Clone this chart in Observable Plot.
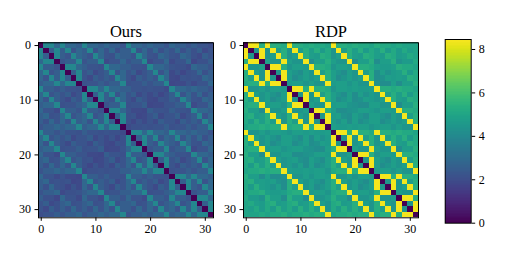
<!DOCTYPE html>
<html>
<head>
<meta charset="utf-8">
<script src="https://cdn.jsdelivr.net/npm/d3@7"></script>
<script src="https://cdn.jsdelivr.net/npm/@observablehq/plot@0.6"></script>
<style>
html,body{margin:0;padding:0;background:#fff}
#c{position:relative;width:523px;height:262px;overflow:hidden;background:#fff}
#c svg{position:absolute;background:transparent;overflow:visible}
</style>
</head>
<body>
<div id="c"></div>
<script>
const oursTitle = "Ours";
const rdpTitle = "RDP";
const tickLabels = [0, 10, 20, 30];
const barTicks = [0, 2, 4, 6, 8];
const colorMax = 8.46;

const ours = [
[0,3.9,3.9,2.8,3.9,2.8,2.8,2.5,3.9,2.8,2.8,2.5,2.8,2.5,2.5,2.2,3.9,2.8,2.8,2.5,2.8,2.5,2.5,2.2,2.8,2.5,2.5,2.2,2.5,2.2,2.2,2],
[3.9,0,2.5,3.9,2.5,3.9,2.2,2.8,2.5,3.9,2.2,2.8,2.2,2.8,2.1,2.5,2.5,3.9,2.2,2.8,2.2,2.8,2.1,2.5,2.2,2.8,2.1,2.5,2.1,2.5,1.9,2.2],
[3.9,2.5,0,3.9,2.5,2.2,3.9,2.8,2.5,2.2,3.9,2.8,2.2,2.1,2.8,2.5,2.5,2.2,3.9,2.8,2.2,2.1,2.8,2.5,2.2,2.1,2.8,2.5,2.1,1.9,2.5,2.2],
[2.8,3.9,3.9,0,2.2,2.5,2.5,3.9,2.2,2.5,2.5,3.9,1.9,2.2,2.2,2.8,2.2,2.5,2.5,3.9,1.9,2.2,2.2,2.8,1.9,2.2,2.2,2.8,1.8,2.1,2.1,2.5],
[3.9,2.5,2.5,2.2,0,3.9,3.9,2.8,2.5,2.2,2.2,2.1,3.9,2.8,2.8,2.5,2.5,2.2,2.2,2.1,3.9,2.8,2.8,2.5,2.2,2.1,2.1,1.9,2.8,2.5,2.5,2.2],
[2.8,3.9,2.2,2.5,3.9,0,2.5,3.9,2.2,2.5,1.9,2.2,2.5,3.9,2.2,2.8,2.2,2.5,1.9,2.2,2.5,3.9,2.2,2.8,1.9,2.2,1.8,2.1,2.2,2.8,2.1,2.5],
[2.8,2.2,3.9,2.5,3.9,2.5,0,3.9,2.2,1.9,2.5,2.2,2.5,2.2,3.9,2.8,2.2,1.9,2.5,2.2,2.5,2.2,3.9,2.8,1.9,1.8,2.2,2.1,2.2,2.1,2.8,2.5],
[2.5,2.8,2.8,3.9,2.8,3.9,3.9,0,2.1,2.2,2.2,2.5,2.2,2.5,2.5,3.9,2.1,2.2,2.2,2.5,2.2,2.5,2.5,3.9,1.8,1.9,1.9,2.2,1.9,2.2,2.2,2.8],
[3.9,2.5,2.5,2.2,2.5,2.2,2.2,2.1,0,3.9,3.9,2.8,3.9,2.8,2.8,2.5,2.5,2.2,2.2,2.1,2.2,2.1,2.1,1.9,3.9,2.8,2.8,2.5,2.8,2.5,2.5,2.2],
[2.8,3.9,2.2,2.5,2.2,2.5,1.9,2.2,3.9,0,2.5,3.9,2.5,3.9,2.2,2.8,2.2,2.5,1.9,2.2,1.9,2.2,1.8,2.1,2.5,3.9,2.2,2.8,2.2,2.8,2.1,2.5],
[2.8,2.2,3.9,2.5,2.2,1.9,2.5,2.2,3.9,2.5,0,3.9,2.5,2.2,3.9,2.8,2.2,1.9,2.5,2.2,1.9,1.8,2.2,2.1,2.5,2.2,3.9,2.8,2.2,2.1,2.8,2.5],
[2.5,2.8,2.8,3.9,2.1,2.2,2.2,2.5,2.8,3.9,3.9,0,2.2,2.5,2.5,3.9,2.1,2.2,2.2,2.5,1.8,1.9,1.9,2.2,2.2,2.5,2.5,3.9,1.9,2.2,2.2,2.8],
[2.8,2.2,2.2,1.9,3.9,2.5,2.5,2.2,3.9,2.5,2.5,2.2,0,3.9,3.9,2.8,2.2,1.9,1.9,1.8,2.5,2.2,2.2,2.1,2.5,2.2,2.2,2.1,3.9,2.8,2.8,2.5],
[2.5,2.8,2.1,2.2,2.8,3.9,2.2,2.5,2.8,3.9,2.2,2.5,3.9,0,2.5,3.9,2.1,2.2,1.8,1.9,2.2,2.5,1.9,2.2,2.2,2.5,1.9,2.2,2.5,3.9,2.2,2.8],
[2.5,2.1,2.8,2.2,2.8,2.2,3.9,2.5,2.8,2.2,3.9,2.5,3.9,2.5,0,3.9,2.1,1.8,2.2,1.9,2.2,1.9,2.5,2.2,2.2,1.9,2.5,2.2,2.5,2.2,3.9,2.8],
[2.2,2.5,2.5,2.8,2.5,2.8,2.8,3.9,2.5,2.8,2.8,3.9,2.8,3.9,3.9,0,1.9,2.1,2.1,2.2,2.1,2.2,2.2,2.5,2.1,2.2,2.2,2.5,2.2,2.5,2.5,3.9],
[3.9,2.5,2.5,2.2,2.5,2.2,2.2,2.1,2.5,2.2,2.2,2.1,2.2,2.1,2.1,1.9,0,3.9,3.9,2.8,3.9,2.8,2.8,2.5,3.9,2.8,2.8,2.5,2.8,2.5,2.5,2.2],
[2.8,3.9,2.2,2.5,2.2,2.5,1.9,2.2,2.2,2.5,1.9,2.2,1.9,2.2,1.8,2.1,3.9,0,2.5,3.9,2.5,3.9,2.2,2.8,2.5,3.9,2.2,2.8,2.2,2.8,2.1,2.5],
[2.8,2.2,3.9,2.5,2.2,1.9,2.5,2.2,2.2,1.9,2.5,2.2,1.9,1.8,2.2,2.1,3.9,2.5,0,3.9,2.5,2.2,3.9,2.8,2.5,2.2,3.9,2.8,2.2,2.1,2.8,2.5],
[2.5,2.8,2.8,3.9,2.1,2.2,2.2,2.5,2.1,2.2,2.2,2.5,1.8,1.9,1.9,2.2,2.8,3.9,3.9,0,2.2,2.5,2.5,3.9,2.2,2.5,2.5,3.9,1.9,2.2,2.2,2.8],
[2.8,2.2,2.2,1.9,3.9,2.5,2.5,2.2,2.2,1.9,1.9,1.8,2.5,2.2,2.2,2.1,3.9,2.5,2.5,2.2,0,3.9,3.9,2.8,2.5,2.2,2.2,2.1,3.9,2.8,2.8,2.5],
[2.5,2.8,2.1,2.2,2.8,3.9,2.2,2.5,2.1,2.2,1.8,1.9,2.2,2.5,1.9,2.2,2.8,3.9,2.2,2.5,3.9,0,2.5,3.9,2.2,2.5,1.9,2.2,2.5,3.9,2.2,2.8],
[2.5,2.1,2.8,2.2,2.8,2.2,3.9,2.5,2.1,1.8,2.2,1.9,2.2,1.9,2.5,2.2,2.8,2.2,3.9,2.5,3.9,2.5,0,3.9,2.2,1.9,2.5,2.2,2.5,2.2,3.9,2.8],
[2.2,2.5,2.5,2.8,2.5,2.8,2.8,3.9,1.9,2.1,2.1,2.2,2.1,2.2,2.2,2.5,2.5,2.8,2.8,3.9,2.8,3.9,3.9,0,2.1,2.2,2.2,2.5,2.2,2.5,2.5,3.9],
[2.8,2.2,2.2,1.9,2.2,1.9,1.9,1.8,3.9,2.5,2.5,2.2,2.5,2.2,2.2,2.1,3.9,2.5,2.5,2.2,2.5,2.2,2.2,2.1,0,3.9,3.9,2.8,3.9,2.8,2.8,2.5],
[2.5,2.8,2.1,2.2,2.1,2.2,1.8,1.9,2.8,3.9,2.2,2.5,2.2,2.5,1.9,2.2,2.8,3.9,2.2,2.5,2.2,2.5,1.9,2.2,3.9,0,2.5,3.9,2.5,3.9,2.2,2.8],
[2.5,2.1,2.8,2.2,2.1,1.8,2.2,1.9,2.8,2.2,3.9,2.5,2.2,1.9,2.5,2.2,2.8,2.2,3.9,2.5,2.2,1.9,2.5,2.2,3.9,2.5,0,3.9,2.5,2.2,3.9,2.8],
[2.2,2.5,2.5,2.8,1.9,2.1,2.1,2.2,2.5,2.8,2.8,3.9,2.1,2.2,2.2,2.5,2.5,2.8,2.8,3.9,2.1,2.2,2.2,2.5,2.8,3.9,3.9,0,2.2,2.5,2.5,3.9],
[2.5,2.1,2.1,1.8,2.8,2.2,2.2,1.9,2.8,2.2,2.2,1.9,3.9,2.5,2.5,2.2,2.8,2.2,2.2,1.9,3.9,2.5,2.5,2.2,3.9,2.5,2.5,2.2,0,3.9,3.9,2.8],
[2.2,2.5,1.9,2.1,2.5,2.8,2.1,2.2,2.5,2.8,2.1,2.2,2.8,3.9,2.2,2.5,2.5,2.8,2.1,2.2,2.8,3.9,2.2,2.5,2.8,3.9,2.2,2.5,3.9,0,2.5,3.9],
[2.2,1.9,2.5,2.1,2.5,2.1,2.8,2.2,2.5,2.1,2.8,2.2,2.8,2.2,3.9,2.5,2.5,2.1,2.8,2.2,2.8,2.2,3.9,2.5,2.8,2.2,3.9,2.5,3.9,2.5,0,3.9],
[2,2.2,2.2,2.5,2.2,2.5,2.5,2.8,2.2,2.5,2.5,2.8,2.5,2.8,2.8,3.9,2.2,2.5,2.5,2.8,2.5,2.8,2.8,3.9,2.5,2.8,2.8,3.9,2.8,3.9,3.9,0]
];

const rdp = [
[0,8.3,8.3,5.3,8.3,5.3,5.3,5.1,8.3,5.3,5.3,5.1,5.3,5.1,5.1,4.9,8.3,5.3,5.3,5.1,5.3,5.1,5.1,4.9,5.3,5.1,5.1,4.9,5.1,4.9,4.9,4.9],
[8.3,0,4.4,8.3,4.4,8.3,4.7,5.3,4.4,8.3,4.7,5.3,4.7,5.3,4.6,5.1,4.4,8.3,4.7,5.3,4.7,5.3,4.6,5.1,4.7,5.3,4.6,5.1,4.6,5.1,4.7,4.9],
[8.3,4.4,0,8.3,4.4,4.7,8.3,5.3,4.4,4.7,8.3,5.3,4.7,4.6,5.3,5.1,4.4,4.7,8.3,5.3,4.7,4.6,5.3,5.1,4.7,4.6,5.3,5.1,4.6,4.7,5.1,4.9],
[5.3,8.3,8.3,0,4.7,4.4,4.4,8.3,4.7,4.4,4.4,8.3,4.1,4.7,4.7,5.3,4.7,4.4,4.4,8.3,4.1,4.7,4.7,5.3,4.1,4.7,4.7,5.3,4.3,4.6,4.6,5.1],
[8.3,4.4,4.4,4.7,0,8.3,8.3,5.3,4.4,4.7,4.7,4.6,8.3,5.3,5.3,5.1,4.4,4.7,4.7,4.6,8.3,5.3,5.3,5.1,4.7,4.6,4.6,4.7,5.3,5.1,5.1,4.9],
[5.3,8.3,4.7,4.4,8.3,0,4.4,8.3,4.7,4.4,4.1,4.7,4.4,8.3,4.7,5.3,4.7,4.4,4.1,4.7,4.4,8.3,4.7,5.3,4.1,4.7,4.3,4.6,4.7,5.3,4.6,5.1],
[5.3,4.7,8.3,4.4,8.3,4.4,0,8.3,4.7,4.1,4.4,4.7,4.4,4.7,8.3,5.3,4.7,4.1,4.4,4.7,4.4,4.7,8.3,5.3,4.1,4.3,4.7,4.6,4.7,4.6,5.3,5.1],
[5.1,5.3,5.3,8.3,5.3,8.3,8.3,0,4.6,4.7,4.7,4.4,4.7,4.4,4.4,8.3,4.6,4.7,4.7,4.4,4.7,4.4,4.4,8.3,4.3,4.1,4.1,4.7,4.1,4.7,4.7,5.3],
[8.3,4.4,4.4,4.7,4.4,4.7,4.7,4.6,0,8.3,8.3,5.3,8.3,5.3,5.3,5.1,4.4,4.7,4.7,4.6,4.7,4.6,4.6,4.7,8.3,5.3,5.3,5.1,5.3,5.1,5.1,4.9],
[5.3,8.3,4.7,4.4,4.7,4.4,4.1,4.7,8.3,0,4.4,8.3,4.4,8.3,4.7,5.3,4.7,4.4,4.1,4.7,4.1,4.7,4.3,4.6,4.4,8.3,4.7,5.3,4.7,5.3,4.6,5.1],
[5.3,4.7,8.3,4.4,4.7,4.1,4.4,4.7,8.3,4.4,0,8.3,4.4,4.7,8.3,5.3,4.7,4.1,4.4,4.7,4.1,4.3,4.7,4.6,4.4,4.7,8.3,5.3,4.7,4.6,5.3,5.1],
[5.1,5.3,5.3,8.3,4.6,4.7,4.7,4.4,5.3,8.3,8.3,0,4.7,4.4,4.4,8.3,4.6,4.7,4.7,4.4,4.3,4.1,4.1,4.7,4.7,4.4,4.4,8.3,4.1,4.7,4.7,5.3],
[5.3,4.7,4.7,4.1,8.3,4.4,4.4,4.7,8.3,4.4,4.4,4.7,0,8.3,8.3,5.3,4.7,4.1,4.1,4.3,4.4,4.7,4.7,4.6,4.4,4.7,4.7,4.6,8.3,5.3,5.3,5.1],
[5.1,5.3,4.6,4.7,5.3,8.3,4.7,4.4,5.3,8.3,4.7,4.4,8.3,0,4.4,8.3,4.6,4.7,4.3,4.1,4.7,4.4,4.1,4.7,4.7,4.4,4.1,4.7,4.4,8.3,4.7,5.3],
[5.1,4.6,5.3,4.7,5.3,4.7,8.3,4.4,5.3,4.7,8.3,4.4,8.3,4.4,0,8.3,4.6,4.3,4.7,4.1,4.7,4.1,4.4,4.7,4.7,4.1,4.4,4.7,4.4,4.7,8.3,5.3],
[4.9,5.1,5.1,5.3,5.1,5.3,5.3,8.3,5.1,5.3,5.3,8.3,5.3,8.3,8.3,0,4.7,4.6,4.6,4.7,4.6,4.7,4.7,4.4,4.6,4.7,4.7,4.4,4.7,4.4,4.4,8.3],
[8.3,4.4,4.4,4.7,4.4,4.7,4.7,4.6,4.4,4.7,4.7,4.6,4.7,4.6,4.6,4.7,0,8.3,8.3,5.3,8.3,5.3,5.3,5.1,8.3,5.3,5.3,5.1,5.3,5.1,5.1,4.9],
[5.3,8.3,4.7,4.4,4.7,4.4,4.1,4.7,4.7,4.4,4.1,4.7,4.1,4.7,4.3,4.6,8.3,0,4.4,8.3,4.4,8.3,4.7,5.3,4.4,8.3,4.7,5.3,4.7,5.3,4.6,5.1],
[5.3,4.7,8.3,4.4,4.7,4.1,4.4,4.7,4.7,4.1,4.4,4.7,4.1,4.3,4.7,4.6,8.3,4.4,0,8.3,4.4,4.7,8.3,5.3,4.4,4.7,8.3,5.3,4.7,4.6,5.3,5.1],
[5.1,5.3,5.3,8.3,4.6,4.7,4.7,4.4,4.6,4.7,4.7,4.4,4.3,4.1,4.1,4.7,5.3,8.3,8.3,0,4.7,4.4,4.4,8.3,4.7,4.4,4.4,8.3,4.1,4.7,4.7,5.3],
[5.3,4.7,4.7,4.1,8.3,4.4,4.4,4.7,4.7,4.1,4.1,4.3,4.4,4.7,4.7,4.6,8.3,4.4,4.4,4.7,0,8.3,8.3,5.3,4.4,4.7,4.7,4.6,8.3,5.3,5.3,5.1],
[5.1,5.3,4.6,4.7,5.3,8.3,4.7,4.4,4.6,4.7,4.3,4.1,4.7,4.4,4.1,4.7,5.3,8.3,4.7,4.4,8.3,0,4.4,8.3,4.7,4.4,4.1,4.7,4.4,8.3,4.7,5.3],
[5.1,4.6,5.3,4.7,5.3,4.7,8.3,4.4,4.6,4.3,4.7,4.1,4.7,4.1,4.4,4.7,5.3,4.7,8.3,4.4,8.3,4.4,0,8.3,4.7,4.1,4.4,4.7,4.4,4.7,8.3,5.3],
[4.9,5.1,5.1,5.3,5.1,5.3,5.3,8.3,4.7,4.6,4.6,4.7,4.6,4.7,4.7,4.4,5.1,5.3,5.3,8.3,5.3,8.3,8.3,0,4.6,4.7,4.7,4.4,4.7,4.4,4.4,8.3],
[5.3,4.7,4.7,4.1,4.7,4.1,4.1,4.3,8.3,4.4,4.4,4.7,4.4,4.7,4.7,4.6,8.3,4.4,4.4,4.7,4.4,4.7,4.7,4.6,0,8.3,8.3,5.3,8.3,5.3,5.3,5.1],
[5.1,5.3,4.6,4.7,4.6,4.7,4.3,4.1,5.3,8.3,4.7,4.4,4.7,4.4,4.1,4.7,5.3,8.3,4.7,4.4,4.7,4.4,4.1,4.7,8.3,0,4.4,8.3,4.4,8.3,4.7,5.3],
[5.1,4.6,5.3,4.7,4.6,4.3,4.7,4.1,5.3,4.7,8.3,4.4,4.7,4.1,4.4,4.7,5.3,4.7,8.3,4.4,4.7,4.1,4.4,4.7,8.3,4.4,0,8.3,4.4,4.7,8.3,5.3],
[4.9,5.1,5.1,5.3,4.7,4.6,4.6,4.7,5.1,5.3,5.3,8.3,4.6,4.7,4.7,4.4,5.1,5.3,5.3,8.3,4.6,4.7,4.7,4.4,5.3,8.3,8.3,0,4.7,4.4,4.4,8.3],
[5.1,4.6,4.6,4.3,5.3,4.7,4.7,4.1,5.3,4.7,4.7,4.1,8.3,4.4,4.4,4.7,5.3,4.7,4.7,4.1,8.3,4.4,4.4,4.7,8.3,4.4,4.4,4.7,0,8.3,8.3,5.3],
[4.9,5.1,4.7,4.6,5.1,5.3,4.6,4.7,5.1,5.3,4.6,4.7,5.3,8.3,4.7,4.4,5.1,5.3,4.6,4.7,5.3,8.3,4.7,4.4,5.3,8.3,4.7,4.4,8.3,0,4.4,8.3],
[4.9,4.7,5.1,4.6,5.1,4.6,5.3,4.7,5.1,4.6,5.3,4.7,5.3,4.7,8.3,4.4,5.1,4.6,5.3,4.7,5.3,4.7,8.3,4.4,5.3,4.7,8.3,4.4,8.3,4.4,0,8.3],
[4.9,4.9,4.9,5.1,4.9,5.1,5.1,5.3,4.9,5.1,5.1,5.3,5.1,5.3,5.3,8.3,4.9,5.1,5.1,5.3,5.1,5.3,5.3,8.3,5.1,5.3,5.3,8.3,5.3,8.3,8.3,0]
];

const font = "'Liberation Serif','DejaVu Serif',serif";
const color = {type:"linear", scheme:"viridis", domain:[0, colorMax]};
const c = document.getElementById("c");

function heat(rows, title, left) {
  const idx = d3.range(rows.length);
  const cells = rows.flatMap((r,i)=>r.map((v,j)=>({i,j,v})));
  const svg = Plot.plot({
    width: 215, height: 240,
    marginLeft: 38, marginRight: 2, marginTop: 42.3, marginBottom: 22.7,
    style: {fontFamily: font, background: "transparent", overflow: "visible"},
    x: {type:"band", domain: idx, padding:0, round:false, axis:null},
    y: {type:"band", domain: idx, padding:0, round:false, axis:null},
    color,
    marks: [
      Plot.cell(cells, {x:"j", y:"i", fill:"v", shapeRendering:"crispEdges"}),
      Plot.axisX(tickLabels, {anchor:"bottom", tickSize:3.5, tickPadding:3, fontSize:12, label:null, stroke:"#000", fill:"#000"}),
      Plot.axisY(tickLabels, {anchor:"left", tickSize:3.5, tickPadding:4, fontSize:12, label:null, stroke:"#000", fill:"#000"}),
      Plot.frame({stroke:"#000", strokeWidth:1}),
      Plot.text([title], {frameAnchor:"top", lineAnchor:"bottom", dy:-6, fontSize:16.5, fill:"#000"})
    ]
  });
  svg.style.left = left + "px";
  svg.style.top = "0px";
  c.appendChild(svg);
}
heat(ours, oursTitle, 0);
heat(rdp, rdpTitle, 205);

const step = colorMax / 128;
const levels = d3.range(128).map(i => i * step);
const bar = Plot.plot({
  width: 80, height: 240,
  marginLeft: 24.7, marginRight: 29.3, marginTop: 39, marginBottom: 17.3,
  style: {fontFamily: font, background: "transparent", overflow: "visible"},
  x: {domain:[0,1], axis:null},
  y: {domain:[0, colorMax], axis:null},
  color,
  marks: [
    Plot.rect(levels, {x1:0, x2:1, y1:d=>d, y2:d=>d+step*1.2, fill:d=>d, shapeRendering:"crispEdges"}),
    Plot.axisY(barTicks, {anchor:"right", tickSize:3.5, tickPadding:4, fontSize:12, label:null, stroke:"#000", fill:"#000"}),
    Plot.frame({stroke:"#000", strokeWidth:1})
  ]
});
bar.style.left = "420px";
bar.style.top = "0px";
c.appendChild(bar);
</script>
</body>
</html>
